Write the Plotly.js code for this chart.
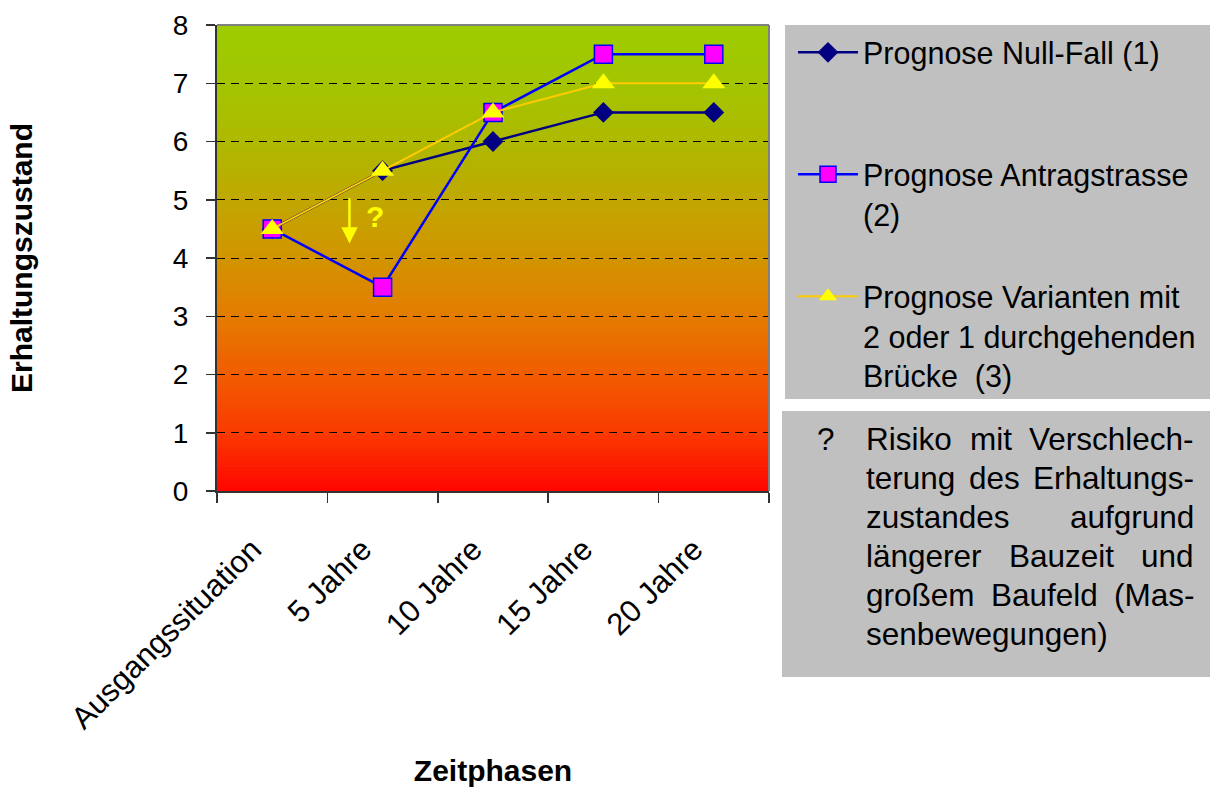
<!DOCTYPE html>
<html><head><meta charset="utf-8">
<script src="https://cdn.plot.ly/plotly-3.0.1.min.js"></script>
<style>html,body{margin:0;padding:0;background:#fff}#chart{width:1214px;height:787px}</style>
</head><body><div id="chart"></div>
<script>
// ---- data ----
const categories = ['Ausgangssituation', '5 Jahre', '10 Jahre', '15 Jahre', '20 Jahre'];
const nullFall = [4.5, 5.5, 6, 6.5, 6.5];
const antragstrasse = [4.5, 3.5, 6.5, 7.5, 7.5];
const varianten = [4.5, 5.5, 6.5, 7, 7];
const seriesNames = [
  'Prognose Null-Fall (1)<br>\u00a0<br>\u00a0',
  'Prognose Antragstrasse<br>(2)<br>\u00a0',
  'Prognose Varianten mit<br>2 oder 1 durchgehenden<br>Brücke  (3)'
];
const yTickValues = [0, 1, 2, 3, 4, 5, 6, 7, 8];
const riskArrow = [0.7, 5.05, 4.25];   // category position, from value, to value
const riskMark = [0.93, 4.72];        // category position, value
const noteSymbol = '?';
const noteLines = [
  ['Risiko', 'mit', 'Verschlech-'],
  ['terung', 'des', 'Erhaltungs-'],
  ['zustandes', 'aufgrund'],
  ['längerer', 'Bauzeit', 'und'],
  ['großem', 'Baufeld', '(Mas-'],
  ['senbewegungen)']
];

// ---- geometry helpers ----
const W = 1214, H = 787;
const M = {l: 217, r: 445, t: 25, b: 296};
const PW = W - M.l - M.r, PH = H - M.t - M.b;
const px2x = p => (p - M.l) / PW;
const py2y = p => (H - M.b - p) / PH;
const FONT = 'Arial, "Liberation Sans", sans-serif';

// ---- background gradient (green top -> red bottom) ----
const stops = [
  [0.000, [255, 5, 0]],
  [0.125, [250, 58, 0]],
  [0.250, [241, 92, 0]],
  [0.375, [228, 124, 0]],
  [0.500, [210, 148, 0]],
  [0.625, [192, 168, 0]],
  [0.750, [174, 185, 0]],
  [0.875, [163, 197, 0]],
  [1.000, [157, 205, 0]]
];
function colAt(t) {
  for (let i = 1; i < stops.length; i++) {
    if (t <= stops[i][0]) {
      const a = stops[i - 1], b = stops[i];
      const f = (t - a[0]) / (b[0] - a[0]);
      const c = a[1].map((v, k) => Math.round(v + (b[1][k] - v) * f));
      return 'rgb(' + c.join(',') + ')';
    }
  }
  return 'rgb(' + stops[stops.length - 1][1].join(',') + ')';
}
const shapes = [];
const N = 117;
for (let i = 0; i < N; i++) {
  shapes.push({type: 'rect', xref: 'paper', yref: 'paper', x0: 0, x1: 1,
    y0: i / N, y1: Math.min(1, (i + 1) / N + 0.003), line: {width: 0},
    fillcolor: colAt((i + 0.5) / N), layer: 'below'});
}
// grey boxes on the right
shapes.push({type: 'rect', xref: 'paper', yref: 'paper', x0: px2x(785), x1: px2x(1210),
  y0: py2y(399), y1: py2y(25), line: {width: 0}, fillcolor: '#C0C0C0', layer: 'below'});
shapes.push({type: 'rect', xref: 'paper', yref: 'paper', x0: px2x(782), x1: px2x(1210),
  y0: py2y(677), y1: py2y(411), line: {width: 0}, fillcolor: '#C0C0C0', layer: 'below'});
// grey frame top/right
shapes.push({type: 'line', xref: 'paper', yref: 'paper', x0: 0, x1: 1, y0: 1, y1: 1,
  line: {color: '#808080', width: 2}, layer: 'above'});
shapes.push({type: 'line', xref: 'paper', yref: 'paper', x0: 1, x1: 1, y0: 0, y1: 1,
  line: {color: '#808080', width: 2}, layer: 'above'});

// ---- annotations ----
const annotations = [];
annotations.push({x: riskArrow[0], y: riskArrow[2], xref: 'x', yref: 'y',
  ax: riskArrow[0], ay: riskArrow[1], axref: 'x', ayref: 'y', text: '',
  showarrow: true, arrowhead: 2, arrowsize: 1.3, arrowwidth: 2.5, arrowcolor: '#FFFF00'});
annotations.push({x: riskMark[0], y: riskMark[1], xref: 'x', yref: 'y', text: '?',
  showarrow: false, font: {family: FONT, size: 30, color: '#FFFF00', weight: 'bold'}});

// justified note text
const NOTE_SIZE = 31.5;
const ctx = document.createElement('canvas').getContext('2d');
ctx.font = NOTE_SIZE + 'px ' + FONT;
const noteLeft = 865, noteRight = 1193, noteTop = 439, noteStep = 39;
annotations.push({x: px2x(826), y: py2y(noteTop), xref: 'paper', yref: 'paper', text: noteSymbol,
  xanchor: 'center', yanchor: 'middle', showarrow: false, borderpad: 0,
  font: {family: FONT, size: NOTE_SIZE, color: '#000'}});
noteLines.forEach((words, li) => {
  const yc = py2y(noteTop + li * noteStep);
  const widths = words.map(w => ctx.measureText(w).width);
  const total = widths.reduce((a, b) => a + b, 0);
  const last = li === noteLines.length - 1;
  const gap = (!last && words.length > 1) ? (noteRight - noteLeft - total) / (words.length - 1) : ctx.measureText(' ').width;
  let pos = noteLeft;
  words.forEach((w, wi) => {
    annotations.push({x: px2x(pos), y: yc, xref: 'paper', yref: 'paper', text: w,
      xanchor: 'left', yanchor: 'middle', showarrow: false, borderpad: 0,
      font: {family: FONT, size: NOTE_SIZE, color: '#000'}});
    pos += widths[wi] + gap;
  });
});

// ---- traces ----
const traces = [
  {type: 'scatter', mode: 'lines+markers', x: categories, y: nullFall, name: seriesNames[0],
   legendgroup: 'a', line: {color: '#000080', width: 2.5},
   marker: {symbol: 'diamond', size: 16, color: '#000080'}},
  {type: 'scatter', mode: 'lines+markers', x: categories, y: antragstrasse, name: seriesNames[1],
   legendgroup: 'b', line: {color: '#0000FF', width: 2.5},
   marker: {symbol: 'square', size: 18, color: '#FF00FF', line: {color: '#0000FF', width: 1.5}}},
  {type: 'scatter', mode: 'lines+markers', x: categories, y: varianten, name: seriesNames[2],
   legendgroup: 'c', line: {color: '#FFCC00', width: 2},
   marker: {symbol: 'triangle-up', size: 20, color: '#FFFF00'}}
];

const layout = {
  width: W, height: H, autosize: false,
  margin: {l: M.l, r: M.r, t: M.t, b: M.b, pad: 0},
  paper_bgcolor: '#FFFFFF', plot_bgcolor: 'rgba(0,0,0,0)',
  font: {family: FONT, color: '#000'},
  hovermode: false,
  showlegend: true,
  legend: {x: px2x(793), xanchor: 'left', y: py2y(26), yanchor: 'top',
    bgcolor: 'rgba(0,0,0,0)', borderwidth: 0, itemwidth: 60, valign: 'top',
    tracegroupgap: 7.5, traceorder: 'normal',
    font: {family: FONT, size: 30.5, color: '#000'}},
  xaxis: {type: 'category', categoryorder: 'array', categoryarray: categories,
    range: [-0.5, 4.5], showline: true, linecolor: '#333', linewidth: 2,
    ticks: 'outside', tickson: 'boundaries', ticklen: 10, tickcolor: '#333', tickwidth: 1.5,
    tickangle: -45, tickfont: {family: FONT, size: 31, color: '#000'},
    ticklabelstandoff: 26, ticklabelshift: -20, showgrid: false, zeroline: false, fixedrange: true,
    title: {text: 'Zeitphasen', standoff: 25, font: {family: FONT, size: 30, color: '#000', weight: 'bold'}}},
  yaxis: {range: [0, 8], tickvals: yTickValues, showline: true, linecolor: '#333', linewidth: 2,
    ticks: 'outside', ticklen: 9, tickcolor: '#333', tickwidth: 1.5,
    tickfont: {family: FONT, size: 28, color: '#000'}, ticklabelstandoff: 12,
    showgrid: true, gridcolor: '#000', gridwidth: 1, griddash: '8px,6px',
    zeroline: false, fixedrange: true,
    title: {text: 'Erhaltungszustand', standoff: 131, font: {family: FONT, size: 30, color: '#000', weight: 'bold'}}},
  shapes: shapes,
  annotations: annotations
};

Plotly.newPlot('chart', traces, layout, {displayModeBar: false, staticPlot: true});
</script>
</body></html>
